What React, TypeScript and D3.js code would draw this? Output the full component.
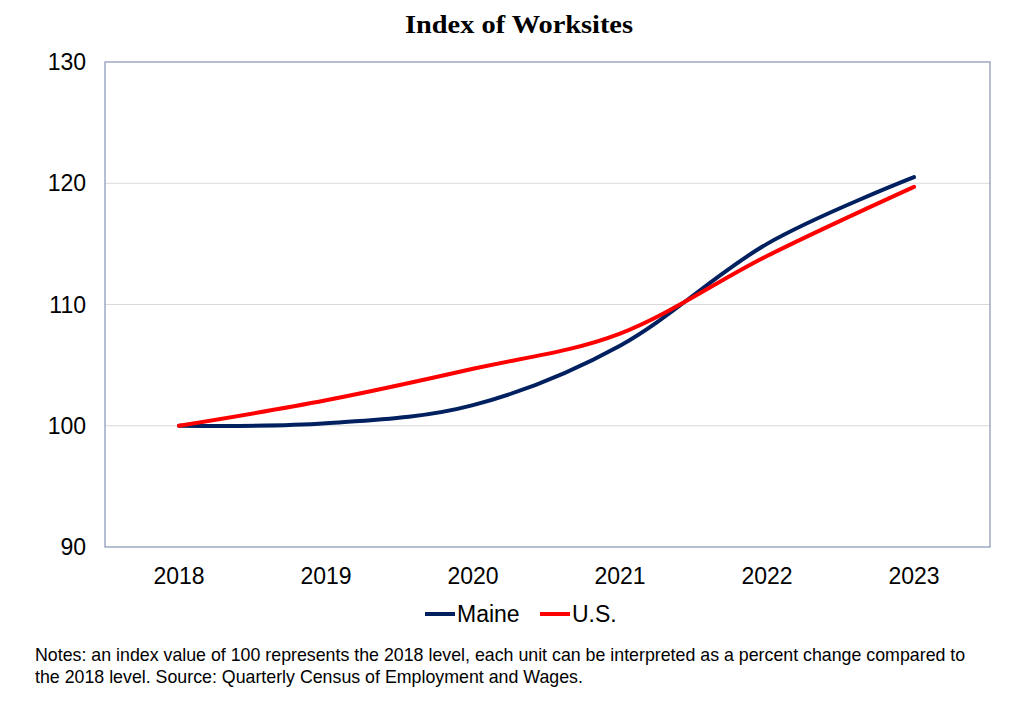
import React, { useEffect, useRef } from "react";
import * as d3 from "d3";

const years = ["2018", "2019", "2020", "2021", "2022", "2023"];
const maine = [100, 100.2, 101.7, 106.6, 115.0, 120.5];
const us = [100, 102.1, 104.7, 107.6, 114.0, 119.7];
const yTicks = [90, 100, 110, 120, 130];

const App: React.FC = () => {
  const svgRef = useRef<SVGSVGElement>(null);

  useEffect(() => {
    const width = 1024;
    const height = 712;
    const left = 105;
    const right = 990;
    const top = 62;
    const bottom = 547;

    const svg = d3.select(svgRef.current);
    svg.selectAll("*").remove();
    svg.attr("width", width).attr("height", height);

    svg
      .append("rect")
      .attr("width", width)
      .attr("height", height)
      .attr("fill", "#fff");

    // title
    svg
      .append("text")
      .attr("x", 405)
      .attr("y", 33)
      .attr("font-family", "Liberation Serif, serif")
      .attr("font-weight", "bold")
      .attr("font-size", 25)
      .attr("textLength", 228)
      .attr("lengthAdjust", "spacingAndGlyphs")
      .attr("fill", "#000")
      .text("Index of Worksites");

    const x = d3
      .scalePoint<string>()
      .domain(years)
      .range([179, 914]);
    const y = d3.scaleLinear().domain([90, 130]).range([bottom, top]);

    // gridlines
    svg
      .selectAll(".grid")
      .data(yTicks.filter((t) => t !== 90 && t !== 130))
      .enter()
      .append("line")
      .attr("x1", left)
      .attr("x2", right)
      .attr("y1", (d) => y(d))
      .attr("y2", (d) => y(d))
      .attr("stroke", "#d9d9d9")
      .attr("stroke-width", 1);

    // plot border
    svg
      .append("rect")
      .attr("x", left)
      .attr("y", top)
      .attr("width", right - left)
      .attr("height", bottom - top)
      .attr("fill", "none")
      .attr("stroke", "#8593b5")
      .attr("stroke-width", 1.2);

    // y tick labels
    svg
      .selectAll(".ylab")
      .data(yTicks)
      .enter()
      .append("text")
      .attr("x", 86)
      .attr("y", (d) => y(d) + 8)
      .attr("text-anchor", "end")
      .attr("font-family", "Liberation Sans, Arial, sans-serif")
      .attr("font-size", 23)
      .attr("fill", "#000")
      .text((d) => d);

    // x tick labels
    svg
      .selectAll(".xlab")
      .data(years)
      .enter()
      .append("text")
      .attr("x", (d) => x(d)!)
      .attr("y", 584)
      .attr("text-anchor", "middle")
      .attr("font-family", "Liberation Sans, Arial, sans-serif")
      .attr("font-size", 23)
      .attr("fill", "#000")
      .text((d) => d);

    const line = d3
      .line<number>()
      .x((_, i) => x(years[i])!)
      .y((d) => y(d))
      .curve(d3.curveCardinal.tension(0));

    const series = [
      { name: "Maine", values: maine, color: "#002060" },
      { name: "U.S.", values: us, color: "#ff0000" },
    ];

    series.forEach((s) => {
      svg
        .append("path")
        .datum(s.values)
        .attr("d", line)
        .attr("fill", "none")
        .attr("stroke", s.color)
        .attr("stroke-width", 4)
        .attr("stroke-linecap", "round");
    });

    // legend
    const legendX = [425, 540];
    series.forEach((s, i) => {
      svg
        .append("line")
        .attr("x1", legendX[i])
        .attr("x2", legendX[i] + 30)
        .attr("y1", 614)
        .attr("y2", 614)
        .attr("stroke", s.color)
        .attr("stroke-width", 4);
      svg
        .append("text")
        .attr("x", legendX[i] + 32)
        .attr("y", 622)
        .attr("font-family", "Liberation Sans, Arial, sans-serif")
        .attr("font-size", 23)
        .attr("fill", "#000")
        .text(s.name);
    });

    // notes
    const notes = [
      "Notes: an index value of 100 represents the 2018 level, each unit can be interpreted as a percent change compared to",
      "the 2018 level. Source: Quarterly Census of Employment and Wages.",
    ];
    svg
      .selectAll(".note")
      .data(notes)
      .enter()
      .append("text")
      .attr("x", 35)
      .attr("y", (_, i) => 661 + i * 22)
      .attr("font-family", "Liberation Sans, Arial, sans-serif")
      .attr("font-size", 17.8)
      .attr("fill", "#000")
      .text((d) => d);
  }, []);

  return (
    <svg
      ref={svgRef}
      style={{ position: "absolute", left: 0, top: 0, display: "block" }}
    />
  );
};

export default App;
